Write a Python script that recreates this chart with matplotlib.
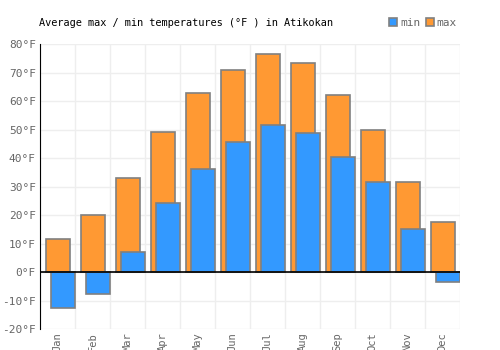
import numpy as np
import matplotlib.pyplot as plt

# monthly averages, degrees F
months = ['Jan', 'Feb', 'Mar', 'Apr', 'May', 'Jun', 'Jul', 'Aug', 'Sep', 'Oct', 'Nov', 'Dec']
t_max = [11.7, 20, 33, 49, 63, 70.8, 76.4, 73.2, 62.3, 49.8, 31.6, 17.5]
t_min = [-12.7, -7.8, 7, 24.2, 36.1, 45.6, 51.5, 48.7, 40.4, 31.6, 15, -3.6]

plt.rcParams['font.family'] = 'DejaVu Sans Mono'

fig = plt.figure(figsize=(5, 3.5), dpi=100)
ax = fig.add_axes([0.08, 0.06, 0.84, 0.814])

x = np.arange(len(months))
w = 0.68
ax.bar(x + 0.17, t_max, width=w, align='edge', color='#ff9933',
       edgecolor='#808080', linewidth=1.2, label='max', zorder=2)
ax.bar(x + 0.31, t_min, width=w, align='edge', color='#3399ff',
       edgecolor='#808080', linewidth=1.2, label='min', zorder=3)

ax.set_xlim(0, 12)
ax.set_ylim(-20, 80)
ax.set_yticks(range(-20, 81, 10))
ax.set_yticklabels([f'{v}°F' for v in range(-20, 81, 10)], color='#666666', fontsize=8)
ax.set_xticks(np.arange(13), minor=False)
ax.set_xticklabels([])
ax.set_xticks(x + 0.5, minor=True)
ax.set_xticklabels(months, minor=True, rotation=90, color='#666666', fontsize=7.5, va='top')
ax.tick_params(axis='both', which='both', length=0, pad=3)
ax.tick_params(axis='x', which='minor', pad=2)

ax.grid(True, color='#eeeeee', linewidth=1, zorder=0)
ax.set_axisbelow(True)
ax.axhline(0, color='black', linewidth=1.2, zorder=4)
for s in ['top', 'right', 'bottom']:
    ax.spines[s].set_visible(False)
ax.spines['left'].set_color('black')
ax.spines['left'].set_zorder(5)

fig.text(0.078, 0.935, 'Average max / min temperatures (°F ) in Atikokan', fontsize=7.4, va='center')

h, l = ax.get_legend_handles_labels()
leg = fig.legend(h[::-1], l[::-1], loc='center', bbox_to_anchor=(0.846, 0.935), ncol=2,
                 frameon=False, fontsize=8, handlelength=0.7, handleheight=0.7,
                 handletextpad=0.25, columnspacing=0.5, labelcolor='#666666')

fig.savefig('out.png', dpi=100)
